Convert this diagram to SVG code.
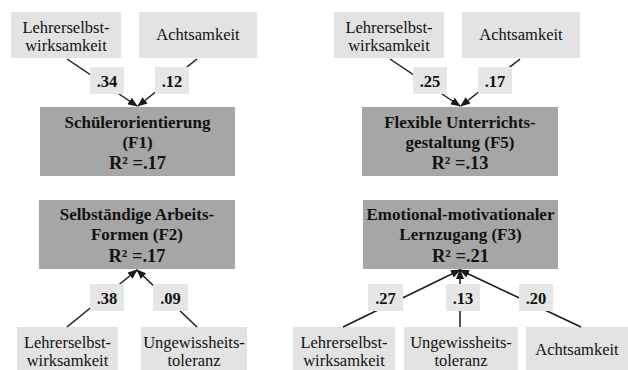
<svg xmlns="http://www.w3.org/2000/svg" width="628" height="370" viewBox="0 0 628 370">
<defs>
<style>
.src{fill:#e3e3e3}
.tgt{fill:#a6a6a6}
.lbl{fill:#e6e6e6}
text{font-family:'Liberation Serif','Times New Roman','DejaVu Serif',serif;fill:#111;text-anchor:middle}
.t{font-size:16.5px}
.tb{font-size:17px;font-weight:bold}
.tr{font-size:18.5px;font-weight:bold}
.tl{font-size:16.5px;font-weight:bold}
.ln{stroke:#1a1a1a;stroke-width:1.5;fill:none;marker-end:url(#ah)}
</style>
<marker id="ah" markerUnits="userSpaceOnUse" markerWidth="10" markerHeight="8" refX="9" refY="4" orient="auto">
<path d="M0,0 L10,4 L0,8 z" fill="#1a1a1a"/>
</marker>
</defs>
<rect width="628" height="370" fill="#ffffff"/>

<!-- top-left -->
<g id="tl-lehrer"><rect class="src" x="11" y="12" width="110" height="46"/><text class="t" x="66" y="32.5">Lehrerselbst-</text><text class="t" x="66" y="51">wirksamkeit</text></g>
<g id="tl-acht"><rect class="src" x="139" y="12" width="118" height="46"/><text class="t" x="198" y="40">Achtsamkeit</text></g>
<g id="f1"><rect class="tgt" x="40" y="107" width="195" height="69"/><text class="tb" x="137.5" y="128">Schülerorientierung</text><text class="tb" x="137.5" y="148">(F1)</text><text class="tr" x="137.5" y="169">R² =.17</text></g>

<!-- top-right -->
<g id="tr-lehrer"><rect class="src" x="334" y="12" width="110" height="46"/><text class="t" x="389" y="32.5">Lehrerselbst-</text><text class="t" x="389" y="51">wirksamkeit</text></g>
<g id="tr-acht"><rect class="src" x="462" y="12" width="118" height="46"/><text class="t" x="521" y="40">Achtsamkeit</text></g>
<g id="f5"><rect class="tgt" x="362" y="107" width="196" height="69"/><text class="tb" x="460" y="128">Flexible Unterrichts-</text><text class="tb" x="460" y="148">gestaltung (F5)</text><text class="tr" x="460" y="169">R² =.13</text></g>

<!-- bottom-left -->
<g id="f2"><rect class="tgt" x="39" y="200" width="196" height="69"/><text class="tb" x="137" y="220">Selbständige Arbeits-</text><text class="tb" x="137" y="240">Formen (F2)</text><text class="tr" x="137" y="262">R² =.17</text></g>
<g id="bl-lehrer"><rect class="src" x="17" y="327" width="101" height="45"/><text class="t" x="67.5" y="348">Lehrerselbst-</text><text class="t" x="67.5" y="366">wirksamkeit</text></g>
<g id="bl-ungew"><rect class="src" x="141" y="327" width="106" height="45"/><text class="t" x="194" y="348">Ungewissheits-</text><text class="t" x="194" y="366">toleranz</text></g>

<!-- bottom-right -->
<g id="f3"><rect class="tgt" x="363" y="200" width="195" height="69"/><text class="tb" x="460.5" y="220">Emotional-motivationaler</text><text class="tb" x="460.5" y="240">Lernzugang (F3)</text><text class="tr" x="460.5" y="262">R² =.21</text></g>
<g id="br-lehrer"><rect class="src" x="293" y="327" width="102" height="45"/><text class="t" x="344" y="348">Lehrerselbst-</text><text class="t" x="344" y="366">wirksamkeit</text></g>
<g id="br-ungew"><rect class="src" x="404" y="327" width="114" height="45"/><text class="t" x="461" y="348">Ungewissheits-</text><text class="t" x="461" y="366">toleranz</text></g>
<g id="br-acht"><rect class="src" x="526" y="327" width="102" height="45"/><text class="t" x="577" y="355">Achtsamkeit</text></g>

<g id="connectors">
<line class="ln" x1="67" y1="59" x2="137" y2="106"/>
<line class="ln" x1="197" y1="59" x2="138" y2="106"/>
<line class="ln" x1="390" y1="59" x2="460" y2="106"/>
<line class="ln" x1="520" y1="59" x2="461" y2="106"/>
<line class="ln" x1="67" y1="327" x2="137" y2="270"/>
<line class="ln" x1="197" y1="327" x2="137" y2="270"/>
<line class="ln" x1="343" y1="327" x2="460" y2="270"/>
<line class="ln" x1="460" y1="327" x2="460" y2="270"/>
<line class="ln" x1="581" y1="327" x2="460" y2="270"/>
<g id="lbl-34"><rect class="lbl" x="90" y="67" width="34" height="27"/><text class="tl" x="107" y="86.5">.34</text></g>
<g id="lbl-12"><rect class="lbl" x="155" y="67" width="34" height="27"/><text class="tl" x="172" y="86.5">.12</text></g>
<g id="lbl-25"><rect class="lbl" x="413" y="67" width="34" height="27"/><text class="tl" x="430" y="86.5">.25</text></g>
<g id="lbl-17"><rect class="lbl" x="478" y="67" width="34" height="27"/><text class="tl" x="495" y="86.5">.17</text></g>
<g id="lbl-38"><rect class="lbl" x="90" y="284" width="34" height="27"/><text class="tl" x="107" y="303.5">.38</text></g>
<g id="lbl-09"><rect class="lbl" x="153" y="284" width="35" height="27"/><text class="tl" x="170.5" y="303.5">.09</text></g>
<g id="lbl-27"><rect class="lbl" x="368" y="284" width="35" height="27"/><text class="tl" x="385.5" y="303.5">.27</text></g>
<g id="lbl-13"><rect class="lbl" x="446" y="284" width="34" height="27"/><text class="tl" x="463" y="303.5">.13</text></g>
<g id="lbl-20"><rect class="lbl" x="519" y="284" width="34" height="27"/><text class="tl" x="536" y="303.5">.20</text></g>
</g>
</svg>
